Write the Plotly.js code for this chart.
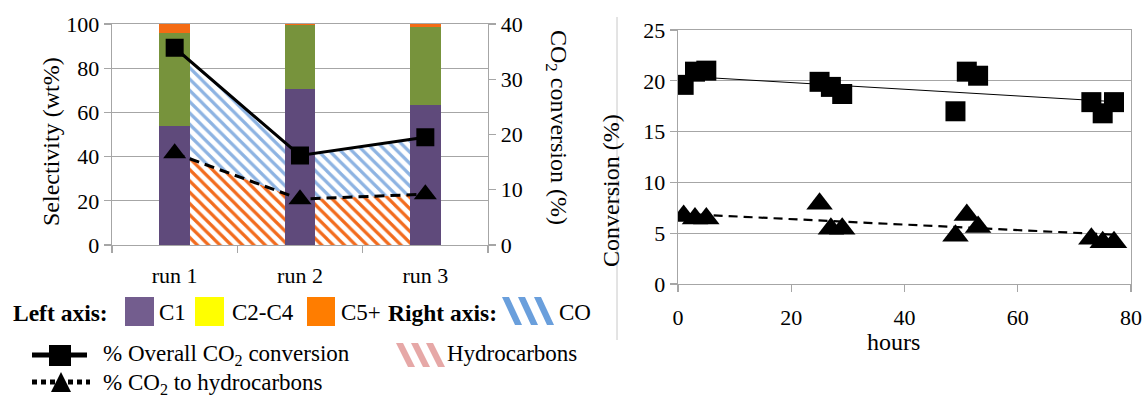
<!DOCTYPE html>
<html>
<head>
<meta charset="utf-8">
<script src="https://cdn.plot.ly/plotly-3.0.1.min.js"></script>
<style>html,body{margin:0;padding:0;background:#fff;}#chart{width:1146px;height:397px;}</style>
</head>
<body>
<div id="chart"></div>
<script>
// ---------- Data: left chart (selectivity bars + CO2 conversion) ----------
const runs = ['run 1', 'run 2', 'run 3'];
const selC1 = [54.0, 70.8, 63.2];
const selC2C4 = [41.8, 28.6, 35.3];
const selC5plus = [4.2, 0.6, 1.5];
const overallConv = [35.7, 16.2, 19.5];
const hcConv = [16.6, 8.3, 9.2];

// ---------- Data: right chart (conversion vs time) ----------
const hoursSq = [1, 3, 5, 25, 27, 29, 49, 51, 53, 73, 75, 77];
const convSq = [19.6, 20.9, 21.0, 19.9, 19.4, 18.7, 17.0, 20.9, 20.5, 17.9, 16.8, 17.9];
const hoursTri = [1, 3, 5, 25, 27, 29, 49, 51, 53, 73, 75, 77];
const convTri = [6.7, 6.45, 6.45, 7.9, 5.45, 5.45, 4.75, 6.8, 5.6, 4.45, 4.1, 4.1];
const trendX = [1, 77];
const trendSolid = [20.45, 17.95];
const trendDash = [6.9, 4.85];

const W = 1146, H = 397;
const px = v => v / W;
const py = v => 1 - v / H;
const FONT = 'Liberation Serif, Times New Roman, serif';
const GRID = '#a6a6a6';
const tickFont = {family: FONT, size: 22, color: '#000'};

const traces = [
  // hatched areas (behind bars)
  {x: runs, y: hcConv, xaxis: 'x', yaxis: 'y', type: 'scatter', mode: 'lines',
   line: {color: 'rgba(0,0,0,0)', width: 0}, fill: 'tozeroy', fillcolor: '#ffffff',
   fillpattern: {shape: '\\', fgcolor: '#f26b1d', bgcolor: '#ffffff', size: 8, solidity: 0.4},
   hoverinfo: 'skip'},
  {x: runs, y: overallConv, xaxis: 'x', yaxis: 'y', type: 'scatter', mode: 'lines',
   line: {color: 'rgba(0,0,0,0)', width: 0}, fill: 'tonexty', fillcolor: '#ffffff',
   fillpattern: {shape: '\\', fgcolor: '#8db3e2', bgcolor: '#ffffff', size: 8, solidity: 0.4},
   hoverinfo: 'skip'},
  // stacked bars
  {x: runs, y: selC1, xaxis: 'x', yaxis: 'y2', type: 'bar', width: 0.245, marker: {color: '#5f4a7b'}},
  {x: runs, y: selC2C4, xaxis: 'x', yaxis: 'y2', type: 'bar', width: 0.245, marker: {color: '#77933c'}},
  {x: runs, y: selC5plus, xaxis: 'x', yaxis: 'y2', type: 'bar', width: 0.245, marker: {color: '#f46b14'}},
  // lines with markers
  {x: runs, y: hcConv, xaxis: 'x', yaxis: 'y3', type: 'scatter', mode: 'lines+markers',
   line: {color: '#000', width: 3, dash: '10px,6px'},
   marker: {symbol: 'triangle-up', size: 20, color: '#000'}},
  {x: runs, y: overallConv, xaxis: 'x', yaxis: 'y3', type: 'scatter', mode: 'lines+markers',
   line: {color: '#000', width: 3},
   marker: {symbol: 'square', size: 18, color: '#000'}},
  // right chart
  {x: trendX, y: trendSolid, xaxis: 'x2', yaxis: 'y4', type: 'scatter', mode: 'lines',
   line: {color: '#000', width: 1}},
  {x: trendX, y: trendDash, xaxis: 'x2', yaxis: 'y4', type: 'scatter', mode: 'lines',
   line: {color: '#000', width: 2.2, dash: '9px,6px'}},
  {x: hoursSq, y: convSq, xaxis: 'x2', yaxis: 'y4', type: 'scatter', mode: 'markers',
   marker: {symbol: 'square', size: 20, color: '#000'}},
  {x: hoursTri, y: convTri, xaxis: 'x2', yaxis: 'y4', type: 'scatter', mode: 'markers',
   marker: {symbol: 'triangle-up', size: 23, color: '#000'}}
];

const axLine = {showline: true, linecolor: GRID, linewidth: 1.3, tickcolor: GRID, tickwidth: 1.3, ticklen: 7, ticks: 'outside', tickfont: tickFont, zeroline: false};

const shapes = [];
const annotations = [];
function txt(text, x, y, opts) {
  annotations.push(Object.assign({xref: 'paper', yref: 'paper', x: px(x), y: py(y), text: text,
    showarrow: false, xanchor: 'left', yanchor: 'middle',
    font: {family: FONT, size: 23, color: '#000'}}, opts || {}));
}
function rect(x0, y0, x1, y1, color) {
  shapes.push({type: 'rect', xref: 'paper', yref: 'paper', x0: px(x0), x1: px(x1), y0: py(y1), y1: py(y0),
    fillcolor: color, line: {width: 0}});
}
function path(d, color) {
  shapes.push({type: 'path', xref: 'paper', yref: 'paper', path: d, fillcolor: color, line: {width: 0}});
}
function ppath(points) {
  return 'M ' + points.map(p => px(p[0]) + ',' + py(p[1])).join(' L ') + ' Z';
}
function stripes(x0, y0, y1, n, step, w, slant, color) {
  for (let i = 0; i < n; i++) {
    const s = x0 + i * step;
    path(ppath([[s, y0], [s + w, y0], [s + w + slant, y1], [s + slant, y1]]), color);
  }
}

// separator line between the two charts
shapes.push({type: 'line', xref: 'paper', yref: 'paper', x0: px(617), x1: px(617), y0: py(17), y1: py(340),
  line: {color: '#c8c8c8', width: 1}});

// axis titles
txt('Selectivity (wt%)', 51, 142, {xanchor: 'center', textangle: -90, font: {family: FONT, size: 24, color: '#000'}});
txt('CO<sub>2</sub> conversion (%)', 557, 127, {xanchor: 'center', textangle: 90, font: {family: FONT, size: 24, color: '#000'}});
txt('Conversion (%)', 611, 191, {xanchor: 'center', textangle: -90, font: {family: FONT, size: 24, color: '#000'}});
txt('hours', 893, 342, {xanchor: 'center', font: {family: FONT, size: 24, color: '#000'}});

// legend row 1
txt('<b>Left axis:</b>', 11, 313, {font: {family: FONT, size: 23.5, color: '#000'}});
rect(125, 297, 154, 326, '#735d8e');
txt('C1', 157, 312);
rect(195, 297, 224, 326, '#ffff00');
txt('C2-C4', 230, 312);
rect(307, 297, 335, 326, '#ff7d00');
txt('C5+', 339, 312);
txt('<b>Right axis:</b>', 386, 313, {font: {family: FONT, size: 23.5, color: '#000'}});
stripes(502, 297, 325, 3, 16, 7, 13, '#6a9fdc');
txt('CO', 557, 312);
// legend row 2
shapes.push({type: 'line', xref: 'paper', yref: 'paper', x0: px(32), x1: px(87), y0: py(355), y1: py(355),
  line: {color: '#000', width: 5}});
rect(49, 345, 71, 366, '#000');
txt('% Overall CO<sub>2</sub> conversion', 101, 355);
stripes(396, 343, 367, 3, 15, 7, 12, '#e6a8a7');
txt('Hydrocarbons', 445, 353);
// legend row 3
shapes.push({type: 'line', xref: 'paper', yref: 'paper', x0: px(32), x1: px(90), y0: py(382), y1: py(382),
  line: {color: '#000', width: 5, dash: '5px,4px'}});
path(ppath([[51, 392], [71, 392], [61, 372]]), '#000');
txt('% CO<sub>2</sub> to hydrocarbons', 101, 384);

const layout = {
  width: W, height: H,
  margin: {l: 0, r: 0, t: 0, b: 0},
  paper_bgcolor: '#fff', plot_bgcolor: 'rgba(0,0,0,0)',
  showlegend: false,
  barmode: 'stack',
  font: {family: FONT, color: '#000'},
  xaxis: Object.assign({}, axLine, {domain: [px(112), px(488)], anchor: 'y', type: 'category',
    range: [-0.5, 2.5], tickson: 'boundaries', mirror: true, showgrid: false, ticklabelstandoff: 10}),
  yaxis: {domain: [py(245), py(24)], anchor: 'x', range: [0, 40], showticklabels: false,
    showgrid: false, zeroline: false, showline: false, ticks: ''},
  yaxis2: Object.assign({}, axLine, {overlaying: 'y', anchor: 'x', side: 'left', range: [0, 100],
    tick0: 0, dtick: 20, showgrid: true, gridcolor: GRID, gridwidth: 1.3}),
  yaxis3: Object.assign({}, axLine, {overlaying: 'y', anchor: 'x', side: 'right', range: [0, 40],
    tick0: 0, dtick: 10, showgrid: false}),
  xaxis2: Object.assign({}, axLine, {domain: [px(678), px(1131)], anchor: 'y4', range: [0, 80],
    tick0: 0, dtick: 20, mirror: true, showgrid: false, ticklabelstandoff: 6}),
  yaxis4: Object.assign({}, axLine, {domain: [py(284), py(30)], anchor: 'x2', range: [0, 25],
    tick0: 0, dtick: 5, mirror: true, showgrid: true, gridcolor: GRID, gridwidth: 1.3}),
  shapes: shapes,
  annotations: annotations
};

Plotly.newPlot('chart', traces, layout, {staticPlot: true, displayModeBar: false});
</script>
</body>
</html>
